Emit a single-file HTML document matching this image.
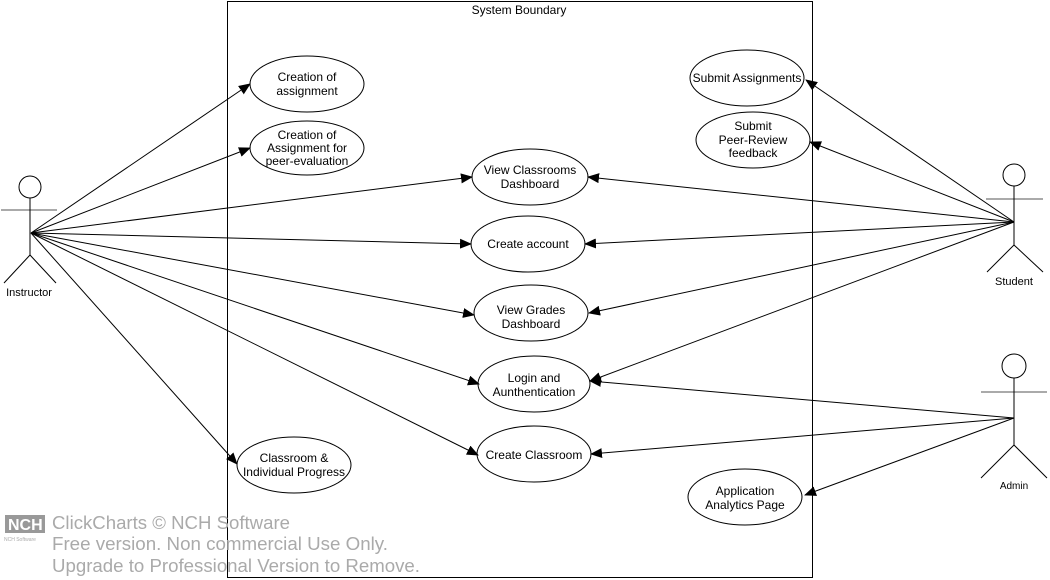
<!DOCTYPE html>
<html><head><style>
html,body{margin:0;padding:0;background:#fff;}
svg{display:block;font-family:"Liberation Sans",Arial,sans-serif;}
</style></head><body>
<svg width="1050" height="580" viewBox="0 0 1050 580" xmlns="http://www.w3.org/2000/svg">
<defs><marker id="a" markerWidth="12" markerHeight="10" refX="11" refY="5" orient="auto" markerUnits="userSpaceOnUse"><path d="M0,0 L12,5 L0,10 z" fill="#000"/></marker></defs>
<rect x="227.5" y="1.5" width="585" height="576" fill="none" stroke="#000"/>
<text x="519" y="14" font-size="12" text-anchor="middle">System Boundary</text>
<g fill="none" stroke="#000">
<ellipse cx="307" cy="84" rx="57" ry="28"/>
<ellipse cx="307" cy="148" rx="57" ry="27"/>
<ellipse cx="747" cy="78" rx="57" ry="28"/>
<ellipse cx="753" cy="140" rx="57" ry="28"/>
<ellipse cx="530" cy="177" rx="58" ry="28"/>
<ellipse cx="528" cy="244" rx="57" ry="28"/>
<ellipse cx="531" cy="313" rx="57" ry="28"/>
<ellipse cx="534" cy="384" rx="56" ry="28"/>
<ellipse cx="534" cy="454" rx="57" ry="28"/>
<ellipse cx="294" cy="465" rx="57" ry="28"/>
<ellipse cx="745" cy="497" rx="57" ry="28"/>
<circle cx="30" cy="187" r="11"/><line x1="1" y1="210" x2="57" y2="210" stroke="#555"/><line x1="30" y1="198" x2="30" y2="255"/><line x1="30" y1="255" x2="4" y2="283"/><line x1="30" y1="255" x2="56" y2="283"/>
<circle cx="1014" cy="175" r="11"/><line x1="986" y1="199" x2="1043" y2="199" stroke="#555"/><line x1="1014" y1="186" x2="1014" y2="245"/><line x1="1014" y1="245" x2="987" y2="272"/><line x1="1014" y1="245" x2="1043" y2="272"/>
<circle cx="1014" cy="366" r="12"/><line x1="981" y1="392" x2="1047" y2="392" stroke="#555"/><line x1="1014" y1="378" x2="1014" y2="445"/><line x1="1014" y1="445" x2="981" y2="478"/><line x1="1014" y1="445" x2="1047" y2="478"/>
</g>
<g stroke="#000" marker-end="url(#a)">
<line x1="31" y1="233" x2="250" y2="84"/>
<line x1="31" y1="233" x2="250" y2="148"/>
<line x1="31" y1="233" x2="472" y2="177"/>
<line x1="31" y1="233" x2="471" y2="244"/>
<line x1="31" y1="233" x2="474" y2="315"/>
<line x1="31" y1="233" x2="479" y2="384"/>
<line x1="31" y1="233" x2="478" y2="455"/>
<line x1="31" y1="233" x2="237" y2="464"/>
<line x1="1014" y1="222" x2="806" y2="80"/>
<line x1="1014" y1="222" x2="810" y2="142"/>
<line x1="1014" y1="222" x2="588" y2="177"/>
<line x1="1014" y1="222" x2="585" y2="244"/>
<line x1="1014" y1="222" x2="589" y2="313"/>
<line x1="1014" y1="222" x2="590" y2="381"/>
<line x1="1014" y1="418" x2="590" y2="381"/>
<line x1="1014" y1="418" x2="591" y2="454"/>
<line x1="1014" y1="418" x2="805" y2="495"/>
</g>
<g font-size="12" text-anchor="middle">
<text x="307" y="81">Creation of</text><text x="307" y="95">assignment</text>
<text x="307" y="139">Creation of</text><text x="307" y="152">Assignment for</text><text x="307" y="165">peer-evaluation</text>
<text x="747" y="82">Submit Assignments</text>
<text x="753" y="130">Submit</text><text x="753" y="144">Peer-Review</text><text x="753" y="157">feedback</text>
<text x="530" y="174">View Classrooms</text><text x="530" y="188">Dashboard</text>
<text x="528" y="248">Create account</text>
<text x="531" y="314">View Grades</text><text x="531" y="328">Dashboard</text>
<text x="534" y="382">Login and</text><text x="534" y="396">Aunthentication</text>
<text x="534" y="459">Create Classroom</text>
<text x="294" y="462">Classroom &amp;</text><text x="294" y="476">Individual Progress</text>
<text x="745" y="495">Application</text><text x="745" y="509">Analytics Page</text>
<text x="29" y="296" font-size="11">Instructor</text>
<text x="1014" y="285" font-size="11">Student</text>
<text x="1014" y="489" font-size="10">Admin</text>
</g>
<g fill="#aaa">
<rect x="5" y="515" width="40" height="18" fill="#999"/>
<text x="8" y="530" font-size="16" font-weight="bold" fill="#fff">NCH</text>
<text x="4" y="541" font-size="5">NCH Software</text>
<g font-size="18" fill="#aaa"><text x="52" y="529" textLength="238" lengthAdjust="spacingAndGlyphs">ClickCharts © NCH Software</text><text x="52" y="550" textLength="336" lengthAdjust="spacingAndGlyphs">Free version. Non commercial Use Only.</text><text x="52" y="572" textLength="368" lengthAdjust="spacingAndGlyphs">Upgrade to Professional Version to Remove.</text></g>
</g>
</svg>
</body></html>
